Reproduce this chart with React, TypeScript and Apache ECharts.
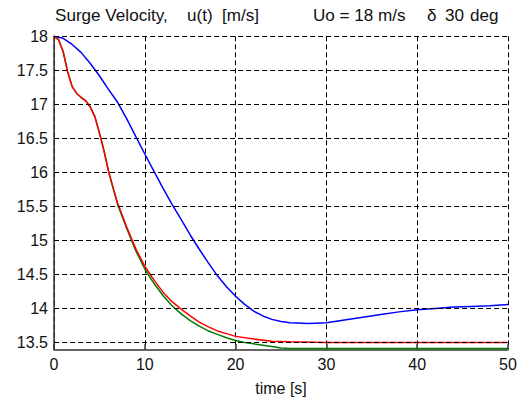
import React, { useEffect, useRef } from "react";
import * as echarts from "echarts";

// time samples (s) and surge velocity (m/s) per curve
const blueT = [0, 1, 2, 3, 4, 5, 6, 7, 8, 9, 10, 11, 12, 13, 14, 15, 16, 17, 18, 19, 20, 21, 22, 23, 24, 25, 26, 28, 30, 32, 34, 36, 38, 40, 42, 44, 46, 48, 50];
const blueV = [18.0, 17.97, 17.88, 17.76, 17.6, 17.42, 17.22, 17.03, 16.79, 16.53, 16.27, 16.02, 15.77, 15.53, 15.31, 15.08, 14.87, 14.67, 14.48, 14.32, 14.18, 14.06, 13.96, 13.89, 13.84, 13.81, 13.79, 13.78, 13.79, 13.83, 13.87, 13.91, 13.95, 13.98, 14.0, 14.02, 14.03, 14.04, 14.06];

const redT = [0, 0.5, 1, 1.5, 2, 2.5, 3, 3.5, 4, 4.5, 5, 5.5, 6, 6.5, 7, 8, 9, 10, 11, 12, 13, 14, 15, 16, 17, 18, 19, 20, 22, 24, 26, 30, 35, 40, 50];
const redV = [18.0, 17.95, 17.78, 17.48, 17.26, 17.16, 17.1, 17.05, 16.96, 16.82, 16.58, 16.32, 16.02, 15.78, 15.55, 15.2, 14.88, 14.62, 14.42, 14.24, 14.1, 13.99, 13.89, 13.8, 13.73, 13.67, 13.63, 13.59, 13.55, 13.52, 13.51, 13.5, 13.5, 13.5, 13.5];

const greenT = [0, 0.5, 1, 1.5, 2, 2.5, 3, 3.5, 4, 4.5, 5, 5.5, 6, 6.5, 7, 8, 9, 10, 11, 12, 13, 14, 15, 16, 17, 18, 19, 20, 21, 22, 23, 24, 25, 26, 30, 40, 50];
const greenV = [18.0, 17.95, 17.78, 17.48, 17.26, 17.16, 17.1, 17.05, 16.96, 16.82, 16.58, 16.32, 16.02, 15.77, 15.53, 15.18, 14.85, 14.58, 14.37, 14.19, 14.04, 13.92, 13.82, 13.74, 13.67, 13.62, 13.57, 13.53, 13.5, 13.48, 13.46, 13.44, 13.42, 13.41, 13.41, 13.41, 13.41];

const yGridValues = [13.5, 14, 14.5, 15, 15.5, 16, 16.5, 17, 17.5, 18];

// title pieces (text, left x)
const titlePieces: [string, number][] = [
  ["Surge Velocity,", 55],
  ["u(t)", 187],
  ["[m/s]", 222],
  ["Uo = 18 m/s", 313],
  ["δ", 427],
  ["30", 445],
  ["deg", 470],
];
const xLabel = "time [s]";

const zip = (t: number[], v: number[]) => t.map((x, i) => [x, v[i]]);

const FONT = "Liberation Sans, Arial, sans-serif";

export default function App() {
  const ref = useRef<HTMLDivElement>(null);
  useEffect(() => {
    if (!ref.current) return;
    const chart = echarts.init(ref.current, undefined, { renderer: "svg" });
    chart.setOption({
      animation: false,
      backgroundColor: "#ffffff",
      grid: { left: 54, right: 15, top: 36.3, bottom: 54.7 },
      graphic: titlePieces.map(([text, x]) => ({
        type: "text",
        x,
        y: 16,
        scaleX: 1.07,
        style: {
          text,
          fill: "#111",
          font: `16px ${FONT}`,
          textAlign: "left",
          textVerticalAlign: "middle",
        },
      })),
      xAxis: {
        type: "value",
        min: 0,
        max: 50,
        interval: 10,
        name: xLabel,
        nameLocation: "middle",
        nameGap: 31,
        nameTextStyle: { color: "#111", fontSize: 16, fontFamily: FONT },
        axisLine: { show: true, lineStyle: { color: "#333", width: 1.5 } },
        axisTick: { show: true, inside: true, length: 5, lineStyle: { color: "#333", width: 1.5 } },
        axisLabel: { color: "#111", fontSize: 16, fontFamily: FONT, margin: 7 },
        splitLine: { show: true, lineStyle: { color: "#000", type: [5, 3], width: 1 } },
      },
      yAxis: {
        type: "value",
        min: 13.4,
        max: 18,
        interval: 0.1,
        axisLine: { show: true, lineStyle: { color: "#333", width: 1.5 } },
        axisTick: { show: false },
        axisLabel: {
          color: "#111",
          fontSize: 16,
          fontFamily: FONT,
          margin: 6,
          formatter: (v: number) => {
            const d = v * 2;
            if (Math.abs(d - Math.round(d)) < 1e-6) return String(Math.round(d) / 2);
            return "";
          },
        },
        splitLine: { show: false },
      },
      series: [
        {
          type: "line",
          data: zip(greenT, greenV),
          showSymbol: false,
          lineStyle: { color: "#007a00", width: 1.5 },
          markLine: {
            silent: true,
            symbol: ["none", "none"],
            label: { show: false },
            lineStyle: { color: "#000", type: [5, 3], width: 1 },
            data: yGridValues.map((y) => ({ yAxis: y })),
          },
        },
        {
          type: "line",
          data: zip(blueT, blueV),
          showSymbol: false,
          lineStyle: { color: "#0000ff", width: 1.5 },
        },
        {
          type: "line",
          data: zip(redT, redV),
          showSymbol: false,
          lineStyle: { color: "#ff0000", width: 1.5 },
        },
      ],
    });
    return () => chart.dispose();
  }, []);
  return (
    <div
      ref={ref}
      style={{ position: "fixed", left: 0, top: 0, width: 523, height: 404 }}
    />
  );
}
